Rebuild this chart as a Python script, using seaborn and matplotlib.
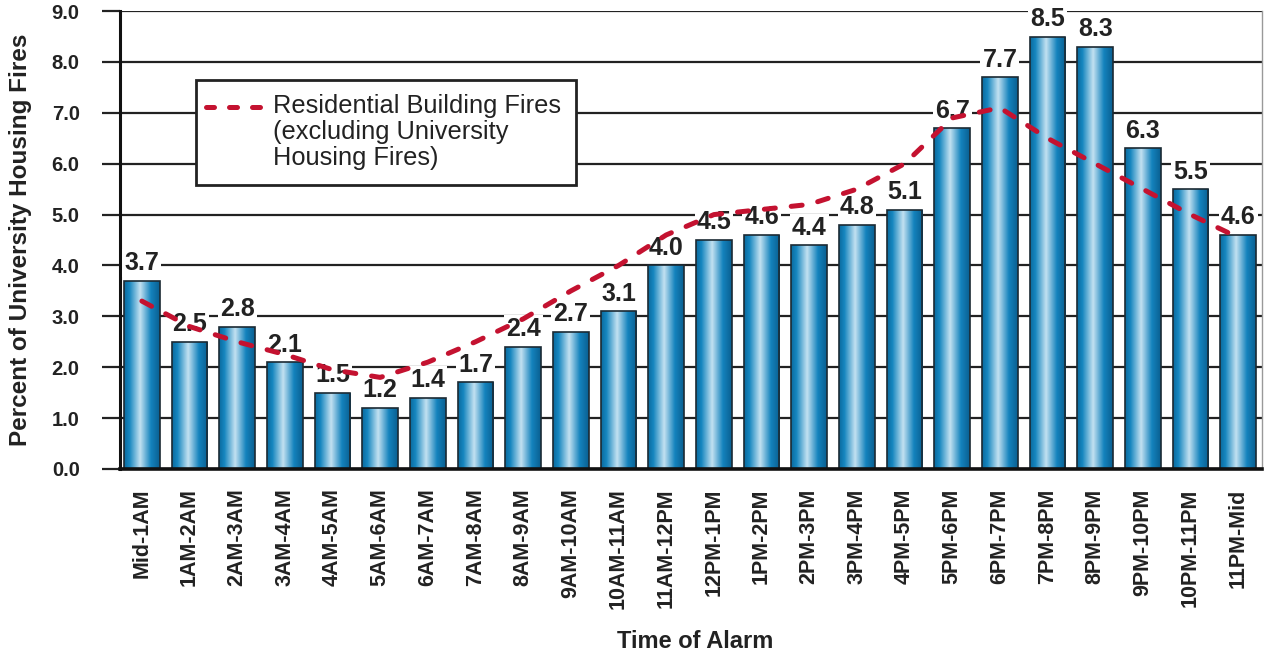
import numpy as np
import pandas as pd
import matplotlib
matplotlib.use('Agg')
import matplotlib.pyplot as plt
from matplotlib.colors import LinearSegmentedColormap
from matplotlib.lines import Line2D
from matplotlib.offsetbox import (AnchoredOffsetbox, DrawingArea, TextArea,
                                  HPacker, VPacker)
import seaborn as sns

# --- data ---
time_slots = ['Mid-1AM', '1AM-2AM', '2AM-3AM', '3AM-4AM', '4AM-5AM', '5AM-6AM',
              '6AM-7AM', '7AM-8AM', '8AM-9AM', '9AM-10AM', '10AM-11AM', '11AM-12PM',
              '12PM-1PM', '1PM-2PM', '2PM-3PM', '3PM-4PM', '4PM-5PM', '5PM-6PM',
              '6PM-7PM', '7PM-8PM', '8PM-9PM', '9PM-10PM', '10PM-11PM', '11PM-Mid']
university_pct = [3.7, 2.5, 2.8, 2.1, 1.5, 1.2, 1.4, 1.7, 2.4, 2.7, 3.1, 4.0,
                  4.5, 4.6, 4.4, 4.8, 5.1, 6.7, 7.7, 8.5, 8.3, 6.3, 5.5, 4.6]
residential_pct = [3.3, 2.8, 2.5, 2.25, 1.95, 1.8, 2.1, 2.5, 2.95, 3.5, 4.0, 4.6,
                   5.0, 5.1, 5.2, 5.5, 6.0, 6.9, 7.1, 6.5, 6.0, 5.5, 5.0, 4.55]
y_ticks = [0, 1, 2, 3, 4, 5, 6, 7, 8, 9]
legend_label = 'Residential Building Fires\n(excluding University\nHousing Fires)'

df = pd.DataFrame({'slot': time_slots, 'univ': university_pct, 'resid': residential_pct})

sns.set_style('white')
plt.rcParams['font.family'] = ['Liberation Sans', 'DejaVu Sans']

red = '#c41230'
txt = '#222222'
line_w = 3.6
dash = (2.2, 3.2)
bar_cmap = LinearSegmentedColormap.from_list(
    'cyl', [(0.0, '#0b6a9e'), (0.15, '#1586bf'), (0.45, '#c3e1f1'),
            (0.75, '#1483bd'), (1.0, '#0a5f91')])

fig = plt.figure(figsize=(12.68, 6.52), dpi=100)
ax = fig.add_axes([0.0946, 0.2807, 0.9007, 0.7023])

sns.barplot(data=df, x='slot', y='univ', color='#1586bf', width=0.75,
            edgecolor='#1b2a33', linewidth=1.2, ax=ax)

# cylinder-like shading on every bar
grad = np.linspace(0, 1, 256).reshape(1, -1)
for p in ax.patches:
    x0, w, h = p.get_x(), p.get_width(), p.get_height()
    im = ax.imshow(grad, cmap=bar_cmap, extent=[x0, x0 + w, 0, h],
                   aspect='auto', zorder=2.1, origin='lower')
    im.set_clip_path(p)
    p.set_facecolor('none')
    p.set_zorder(2.2)

# value labels
for i, v in enumerate(university_pct):
    ax.annotate(f'{v:.1f}', (i, v), xytext=(0, 4), textcoords='offset points',
                ha='center', va='bottom', fontsize=18, fontweight='bold',
                color=txt, zorder=3,
                bbox=dict(boxstyle='square,pad=0.08', fc='white', ec='none'))

# residential line
sns.lineplot(x=np.arange(len(time_slots)), y=residential_pct, ax=ax, color=red,
             linewidth=line_w, zorder=4, legend=False)
ln = ax.lines[-1]
ln.set_dashes(dash)
ln.set_dash_capstyle('round')

ax.set_xlim(-0.46, 23.5)
ax.set_ylim(0, 9)
ax.set_yticks(y_ticks)
ax.set_yticklabels([f'{t:.1f}' for t in y_ticks])

ax.set_axisbelow(True)
ax.yaxis.grid(True, color=txt, linewidth=1.6)
ax.xaxis.grid(False)

ax.spines['top'].set_visible(False)
ax.spines['left'].set_color('#111111')
ax.spines['left'].set_linewidth(2.2)
ax.spines['bottom'].set_color('#111111')
ax.spines['bottom'].set_linewidth(2.6)
ax.spines['right'].set_color('#999999')
ax.spines['right'].set_linewidth(1.0)

ax.tick_params(axis='y', length=13, width=1.6, color=txt, pad=16,
               labelsize=14.5, labelcolor=txt, left=True)
ax.tick_params(axis='x', length=0, pad=14, labelsize=15.5, labelcolor=txt,
               rotation=90)
for t in ax.get_yticklabels() + ax.get_xticklabels():
    t.set_fontweight('bold')
for t in ax.get_xticklabels():
    t.set_va('top')

ax.set_xlabel('Time of Alarm', fontsize=17, fontweight='bold', color=txt)
ax.set_ylabel('Percent of University Housing Fires', fontsize=17.5,
              fontweight='bold', color=txt)
ax.xaxis.set_label_coords(0.5035, -0.352)
ax.yaxis.set_label_coords(-0.077, 0.5)

# legend box: dashed sample next to the first line of a 3-line label
da = DrawingArea(41, 25, 0, 0)
da.add_artist(Line2D([1.8, 40.7], [10.5, 10.5], color=red, linewidth=line_w,
                     dashes=(1.6, 3.0), dash_capstyle='round'))
ta = TextArea(legend_label, textprops=dict(fontsize=18.3, color=txt,
                                           linespacing=1.1))
ta_box = VPacker(children=[ta], pad=5, sep=0)
pack = HPacker(children=[da, ta_box], align='top', pad=0, sep=4)
lg = AnchoredOffsetbox(loc='upper left', child=pack, pad=0.55, borderpad=0,
                       bbox_to_anchor=(0.0665, 0.8505),
                       bbox_transform=ax.transAxes, frameon=True)
lg.patch.set_boxstyle('square', pad=0)
lg.patch.set_edgecolor(txt)
lg.patch.set_facecolor('white')
lg.patch.set_linewidth(2)
lg.set_zorder(5)
ax.add_artist(lg)

fig.savefig('out.png', dpi=100)
